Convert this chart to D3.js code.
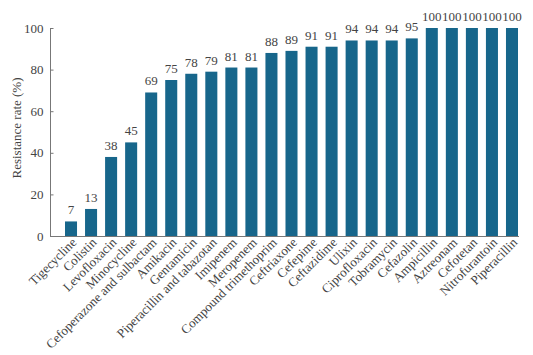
<!DOCTYPE html>
<html><head><meta charset="utf-8">
<script src="https://cdn.jsdelivr.net/npm/d3@7"></script>
<style>body{margin:0;background:#fff}svg{display:block}text{font-family:"Liberation Serif","Times New Roman",Tinos,serif}</style>
</head><body><svg id="c" width="533" height="355"></svg>
<script>
const categories = ["Tigecycline","Colistin","Levofloxacin","Minocycline","Cefoperazone and sulbactam","Amikacin","Gentamicin","Piperacillin and tabazotan","Imipenem","Meropenem","Compound trimethoprim","Ceftriaxone","Cefepime","Ceftazidime","Ulixin","Ciprofloxacin","Tobramycin","Cefazolin","Ampicillin","Aztreonam","Cefotetan","Nitrofurantoin","Piperacillin"];
const values = [7,13,38,45,69,75,78,79,81,81,88,89,91,91,94,94,94,95,100,100,100,100,100];
const yTicks = [0,20,40,60,80,100];

const svg = d3.select("#c");
const x = d3.scaleBand().domain(categories).range([65,518]).paddingInner(0.4).paddingOuter(0);
const y = d3.scaleLinear().domain([0,100]).range([236,28]);

const yAxis = svg.append("g").attr("transform","translate(50.5,0)")
  .call(d3.axisLeft(y).tickValues(yTicks).tickSize(-3).tickPadding(7));
yAxis.select(".domain").attr("stroke","#777").attr("d","M0,236V28");
yAxis.selectAll(".tick line").attr("stroke","#777");
yAxis.selectAll("text").style("font-size","13px").attr("fill","#444");

svg.append("line").attr("x1",50).attr("x2",519).attr("y1",236.5).attr("y2",236.5).attr("stroke","#777");

svg.append("g").selectAll("rect").data(values).join("rect")
  .attr("x",(d,i)=>x(categories[i]))
  .attr("width",x.bandwidth())
  .attr("y",d=>y(d))
  .attr("height",d=>236-y(d))
  .attr("fill","#17668b");

svg.append("g").selectAll("text").data(values).join("text")
  .attr("x",(d,i)=>x(categories[i])+x.bandwidth()/2)
  .attr("y",d=>y(d)-7)
  .attr("text-anchor","middle")
  .style("font-size","13px").attr("fill","#444")
  .text(d=>d);

svg.append("g").selectAll("text").data(categories).join("text")
  .attr("transform",d=>`translate(${x(d)+x.bandwidth()/2+3},${240}) rotate(-45)`)
  .attr("text-anchor","end")
  .attr("dy","0.35em")
  .style("font-size","13px").attr("fill","#444")
  .text(d=>d);

svg.append("text")
  .attr("transform","translate(16,128) rotate(-90)")
  .attr("text-anchor","middle")
  .attr("dy","0.35em")
  .style("font-size","13px").attr("fill","#444")
  .text("Resistance rate (%)");
</script></body></html>
